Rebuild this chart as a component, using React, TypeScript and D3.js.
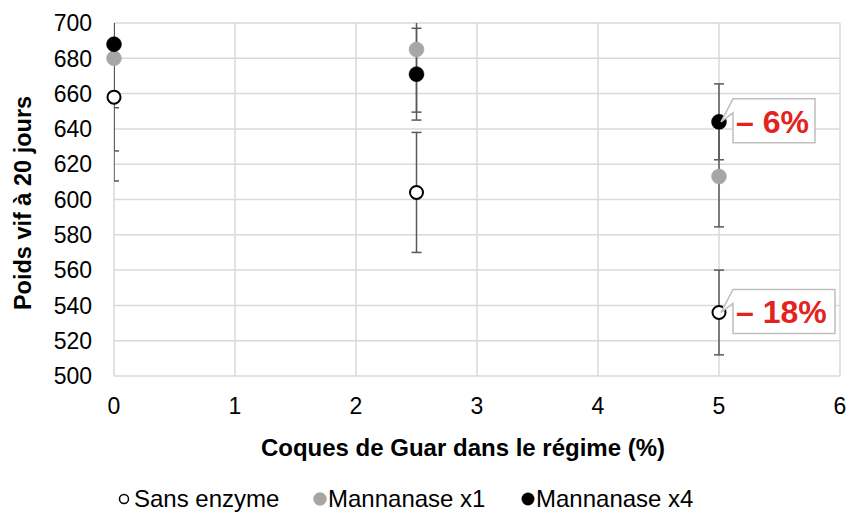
import React from 'react';
import * as d3 from 'd3';

// valeurs
const doses = [0, 2.5, 5];
const sansEnzyme = [658, 604, 536];
const sansEnzymeErr = [47.5, 34, 24];
const mannanaseX1 = [680, 685, 613];
const mannanaseX1Err = [52.5, 35.5, 28.5];
const mannanaseX4 = [688, 671, 644];
const mannanaseX4Err = [36, 26, 21.5];
const xTicks = [0, 1, 2, 3, 4, 5, 6];
const yTicks = [500, 520, 540, 560, 580, 600, 620, 640, 660, 680, 700];
const callouts = [
  { series: 'x4', index: 2, label: '– 6%', w: 82 },
  { series: 'sans', index: 2, label: '– 18%', w: 102 },
];

const W = 847, H = 513;
const margin = { top: 23, right: 7, bottom: 137, left: 114 };
const FONT = '"Liberation Sans", Arial, sans-serif';

const x = d3.scaleLinear().domain([0, 6]).range([margin.left, W - margin.right]);
const y = d3.scaleLinear().domain([500, 700]).range([H - margin.bottom, margin.top]);

const series = [
  { key: 'sans', name: 'Sans enzyme', values: sansEnzyme, err: sansEnzymeErr, fill: '#fff', stroke: '#000' },
  { key: 'x1', name: 'Mannanase x1', values: mannanaseX1, err: mannanaseX1Err, fill: '#a6a6a6', stroke: '#a6a6a6' },
  { key: 'x4', name: 'Mannanase x4', values: mannanaseX4, err: mannanaseX4Err, fill: '#000', stroke: '#000' },
];

const legendMark = [124, 320, 528];
const legendText = [134, 328, 536];
const legendR = [4.5, 6.5, 6.2];

export default function App() {
  const [x0, x1] = x.range();
  const [y0, y1] = y.range();
  return (
    <svg width={W} height={H} style={{ position: 'absolute', left: 0, top: 0, background: '#fff' }} fontFamily={FONT}>
      <defs>
        <clipPath id="plot">
          <rect x={x0} y={y1} width={x1 - x0} height={y0 - y1} />
        </clipPath>
      </defs>
      {/* grille */}
      {yTicks.map(t => (
        <line key={'gy' + t} x1={x0} x2={x1} y1={y(t)} y2={y(t)} stroke="#d9d9d9" strokeWidth={1.5} />
      ))}
      {xTicks.map(t => (
        <line key={'gx' + t} x1={x(t)} x2={x(t)} y1={y1} y2={y0} stroke="#d9d9d9" strokeWidth={1.5} />
      ))}
      {/* étiquettes des axes */}
      {yTicks.map(t => (
        <text key={'ly' + t} x={92} y={y(t)} dy="0.36em" textAnchor="end" fontSize={23} fill="#000">{t}</text>
      ))}
      {xTicks.map(t => (
        <text key={'lx' + t} x={x(t)} y={414} textAnchor="middle" fontSize={23} fill="#000">{t}</text>
      ))}
      <text x={463} y={456} textAnchor="middle" fontSize={24} fontWeight="bold">Coques de Guar dans le régime (%)</text>
      <text transform="translate(31,203) rotate(-90)" textAnchor="middle" fontSize={23.5} fontWeight="bold">Poids vif à 20 jours</text>
      {/* barres d'erreur */}
      <g clipPath="url(#plot)" stroke="#595959" strokeWidth={1.5}>
        {series.map(s => s.values.map((v, i) => {
          const cx = x(doses[i]);
          const top = y(v + s.err[i]);
          const bot = y(v - s.err[i]);
          return (
            <g key={s.key + i}>
              <line x1={cx} x2={cx} y1={top} y2={bot} />
              <line x1={cx - 5} x2={cx + 5} y1={top} y2={top} />
              <line x1={cx - 5} x2={cx + 5} y1={bot} y2={bot} />
            </g>
          );
        }))}
      </g>
      {/* points */}
      {series.map(s => s.values.map((v, i) => (
        <circle key={'p' + s.key + i} cx={x(doses[i])} cy={y(v)} r={s.key === 'sans' ? 6.5 : 7.5}
          fill={s.fill} stroke={s.stroke} strokeWidth={s.key === 'sans' ? 2 : 0.5} />
      )))}
      {/* étiquettes de variation */}
      {callouts.map(c => {
        const s = series.find(d => d.key === c.series)!;
        const px = x(doses[c.index]);
        const py = y(s.values[c.index]);
        const left = px + 14, top = py - 23, h = 44, right = left + c.w;
        const d = `M${px + 2},${py} L${left},${top} L${right},${top} L${right},${top + h} L${left},${top + h} L${left},${top + 14} Z`;
        return (
          <g key={c.label}>
            <path d={d} fill="#fff" stroke="#bfbfbf" strokeWidth={1.5} />
            <text x={left + 3} y={top + 34} fontSize={32} fontWeight="bold" fill="#e3231d">{c.label}</text>
          </g>
        );
      })}
      {/* légende */}
      {series.map((s, i) => (
        <g key={'lg' + s.key}>
          <circle cx={legendMark[i]} cy={499} r={legendR[i]} fill={s.fill} stroke={s.stroke} strokeWidth={s.key === 'sans' ? 1.5 : 0.5} />
          <text x={legendText[i]} y={507} fontSize={24} fill="#000">{s.name}</text>
        </g>
      ))}
    </svg>
  );
}
